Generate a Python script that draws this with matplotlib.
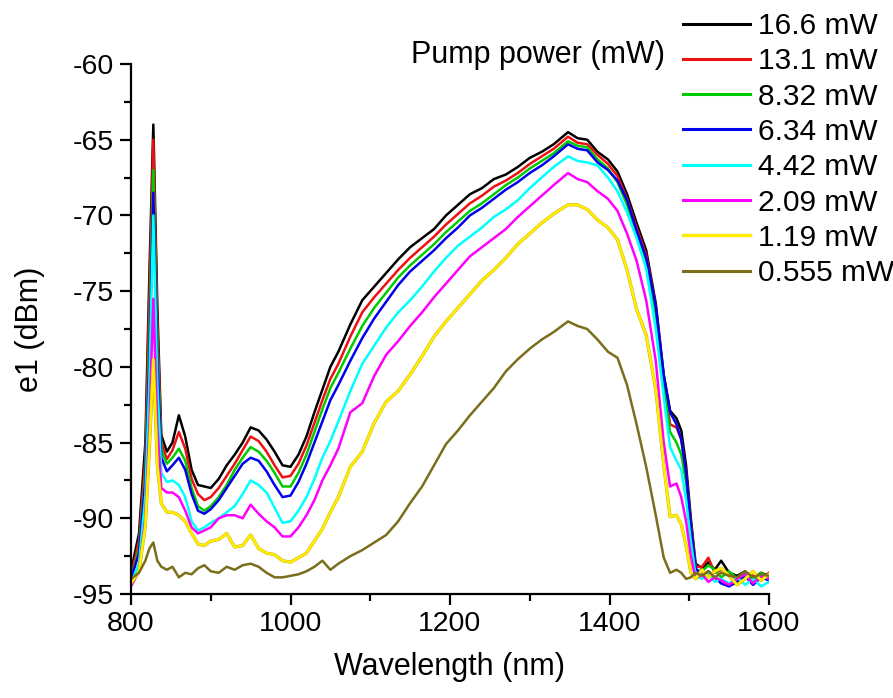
import matplotlib
matplotlib.use("Agg")
import matplotlib.pyplot as plt
from matplotlib.ticker import MultipleLocator
import matplotlib.patheffects as pe

plt.rcParams['font.family'] = ['Liberation Sans', 'DejaVu Sans']
plt.rcParams['axes.unicode_minus'] = False

wavelength = [800, 810, 818, 823, 828, 833, 838, 845, 852, 860, 868, 876, 884, 892, 900,
              910, 920, 930, 940, 950, 960, 970, 980, 990, 1000, 1010, 1020, 1030, 1040,
              1050, 1060, 1075, 1090, 1105, 1120, 1135, 1150, 1165, 1180, 1195, 1210, 1225,
              1240, 1255, 1270, 1285, 1300, 1315, 1330, 1348, 1360, 1372, 1385, 1398, 1410,
              1422, 1434, 1446, 1458, 1468, 1476, 1484, 1490, 1496, 1502, 1508, 1516, 1524,
              1532, 1540, 1550, 1560, 1570, 1580, 1590, 1600]

p16_6 = [-93.5, -91.0, -85.0, -74.0, -64.0, -76.0, -84.5, -85.6, -85.0, -83.2, -84.6, -86.8, -87.8,
         -87.9, -88.0, -87.4, -86.5, -85.8, -85.0, -84.0, -84.2, -84.8, -85.6, -86.5, -86.6, -85.8,
         -84.6, -83.0, -81.5, -80.0, -79.0, -77.2, -75.6, -74.7, -73.8, -72.9, -72.1, -71.5, -70.9,
         -70.0, -69.3, -68.6, -68.2, -67.6, -67.3, -66.8, -66.2, -65.8, -65.3, -64.5, -64.9, -65.0,
         -65.8, -66.3, -67.1, -68.6, -70.5, -72.3, -75.8, -80.5, -82.9, -83.4, -84.2, -86.5, -90.0,
         -93.0, -93.3, -92.9, -93.4, -92.8, -93.6, -93.8, -93.5, -94.0, -93.6, -93.8]

p13_1 = [-93.8, -91.5, -86.0, -75.5, -65.0, -77.0, -85.0, -86.1, -85.5, -84.3, -85.4, -87.4, -88.4,
         -88.8, -88.6, -88.0, -87.2, -86.4, -85.5, -84.6, -84.9, -85.6, -86.5, -87.3, -87.2, -86.4,
         -85.2, -83.7, -82.2, -80.8, -79.8, -78.0, -76.4, -75.4, -74.5, -73.6, -72.8, -72.1, -71.4,
         -70.6, -69.9, -69.2, -68.7, -68.1, -67.7, -67.2, -66.6, -66.1, -65.6, -64.8, -65.2, -65.3,
         -66.0, -66.6, -67.4, -68.9, -70.8, -72.6, -76.0, -80.8, -83.8, -84.0, -84.8, -87.0, -90.3,
         -93.2, -93.2, -92.6, -93.6, -93.4, -93.7, -94.0, -93.6, -93.8, -94.0, -93.6]

p8_32 = [-94.0, -92.0, -87.0, -78.0, -67.0, -78.5, -85.5, -86.4, -86.0, -85.4, -86.2, -88.0, -89.2,
         -89.5, -89.2, -88.6, -87.8, -86.8, -86.0, -85.3, -85.6, -86.2, -87.0, -87.9, -87.9, -87.0,
         -85.8, -84.3, -82.8, -81.4, -80.4, -78.8, -77.3, -76.1, -75.1, -74.1, -73.3, -72.6, -71.9,
         -71.1, -70.4, -69.7, -69.2, -68.6, -68.0, -67.5, -66.9, -66.4, -65.9, -65.1, -65.4, -65.5,
         -66.3, -66.9, -67.8, -69.3, -71.2, -73.0, -76.5, -81.2, -84.3, -85.0, -85.8, -87.6, -90.6,
         -93.4, -93.5, -93.1, -93.4, -93.9, -93.5, -94.0, -93.7, -94.1, -93.6, -93.9]

p6_34 = [-94.0, -92.3, -87.5, -79.5, -68.5, -79.5, -86.0, -86.9, -86.5, -86.0, -86.8, -88.4, -89.5,
         -89.7, -89.4, -88.8, -88.0, -87.2, -86.4, -86.0, -86.2, -86.9, -87.8, -88.6, -88.5, -87.6,
         -86.4, -85.0, -83.6, -82.2, -81.2, -79.6, -78.1, -76.8, -75.7, -74.6, -73.7, -73.0, -72.3,
         -71.5, -70.8, -70.0, -69.5, -68.9, -68.3, -67.8, -67.2, -66.7, -66.1, -65.3, -65.6, -65.7,
         -66.5, -67.0, -67.7, -69.0, -71.0, -72.8, -76.0, -80.6, -83.0, -83.8, -84.8, -87.0, -90.5,
         -93.3, -93.8, -93.5, -93.9, -94.3, -94.5, -94.2, -93.8, -94.4, -93.9, -94.1]

p4_42 = [-94.3, -93.0, -88.5, -81.0, -70.0, -81.0, -87.0, -87.6, -87.5, -87.8, -88.6, -90.2, -90.8,
         -90.6, -90.3, -90.0, -89.6, -89.2, -88.4, -87.5, -87.8, -88.3, -89.3, -90.3, -90.2, -89.5,
         -88.6, -87.4, -86.0, -84.9, -83.6, -81.6, -79.8, -78.6, -77.4, -76.4, -75.6, -74.7, -73.7,
         -72.8, -72.0, -71.4, -70.8, -70.1, -69.6, -69.0, -68.2, -67.5, -66.8, -66.1, -66.4, -66.5,
         -66.7, -67.5, -68.4, -69.8, -71.5, -73.5, -77.5, -82.0, -85.3, -86.2, -86.8, -88.8, -91.5,
         -93.8, -94.0, -93.6, -94.2, -94.0, -94.3, -93.9, -94.4, -94.0, -94.5, -94.2]

p2_09 = [-94.5, -93.5, -90.0, -84.0, -75.5, -84.0, -88.0, -88.3, -88.3, -88.6, -89.5, -90.6, -91.0,
         -90.8, -90.6, -90.0, -89.8, -89.8, -90.0, -89.1, -89.7, -90.2, -90.6, -91.2, -91.2, -90.6,
         -89.8, -88.8, -87.5, -86.5, -85.4, -83.0, -82.4, -80.6, -79.2, -78.3, -77.3, -76.4, -75.4,
         -74.5, -73.6, -72.7, -72.1, -71.5, -70.9, -70.1, -69.4, -68.7, -68.0, -67.2, -67.6, -67.8,
         -68.4, -68.9, -69.7, -71.2, -73.0, -75.6, -79.6, -85.0, -87.9, -87.7, -88.6, -90.2, -92.5,
         -94.0, -93.7, -94.2, -93.9, -94.1, -94.4, -94.0, -93.7, -94.3, -93.8, -94.0]

p1_19 = [-94.3, -93.5, -90.5, -85.5, -79.5, -86.5, -89.0, -89.6, -89.6, -89.8, -90.2, -91.0, -91.7,
         -91.8, -91.5, -91.4, -91.0, -91.9, -91.8, -91.1, -92.0, -92.3, -92.4, -92.8, -92.9, -92.6,
         -92.3, -91.5, -90.7, -89.6, -88.6, -86.6, -85.6, -83.7, -82.3, -81.6, -80.5, -79.3, -78.0,
         -77.0, -76.1, -75.2, -74.3, -73.6, -72.8, -71.9, -71.2, -70.5, -69.9, -69.3, -69.3, -69.6,
         -70.3, -70.8, -71.6, -73.6, -76.2, -77.9, -81.5, -86.5, -89.9, -89.8, -90.4, -91.8, -93.6,
         -94.0, -93.4, -93.9, -93.5, -93.3, -93.8, -94.4, -94.0, -93.5, -94.1, -93.7]

p0_555 = [-94.0, -93.6, -92.8, -92.0, -91.6, -92.8, -93.2, -93.4, -93.2, -93.9, -93.6, -93.7, -93.3,
          -93.1, -93.5, -93.6, -93.2, -93.4, -93.1, -93.0, -93.2, -93.6, -93.9, -93.9, -93.8, -93.7,
          -93.5, -93.2, -92.8, -93.4, -93.0, -92.5, -92.1, -91.6, -91.1, -90.2, -89.0, -87.9, -86.5,
          -85.1, -84.2, -83.2, -82.3, -81.4, -80.3, -79.5, -78.8, -78.2, -77.7, -77.0, -77.3, -77.5,
          -78.2, -79.0, -79.4, -81.2, -83.8, -86.6, -89.8, -92.6, -93.6, -93.4, -93.6, -94.0, -93.9,
          -93.6, -93.8, -93.5, -93.9, -93.6, -93.8, -93.9, -93.5, -93.9, -93.7, -93.8]

labels = ["16.6 mW", "13.1 mW", "8.32 mW", "6.34 mW", "4.42 mW", "2.09 mW", "1.19 mW", "0.555 mW"]
series = [p16_6, p13_1, p8_32, p6_34, p4_42, p2_09, p1_19, p0_555]
colors = ["#000000", "#ee1111", "#00cc00", "#0000ee", "#00ffff", "#ff00ff", "#ffee00", "#7a6e1c"]

fig = plt.figure(figsize=(8.93, 6.98), dpi=100)
ax = fig.add_axes([131 / 893, 1 - 594 / 698, (769 - 131) / 893, (594 - 64) / 698])

lines = []
for y, c, lab in zip(series, colors, labels):
    kw = {}
    if c == "#ffee00":
        kw['path_effects'] = [pe.Stroke(linewidth=2.3, foreground="#c9a800"), pe.Normal()]
    ln, = ax.plot(wavelength, y, color=c, lw=1.8, label=lab, **kw)
    lines.append(ln)

ax.set_xlim(800, 1600)
ax.set_ylim(-95, -60)
ax.xaxis.set_major_locator(MultipleLocator(200))
ax.xaxis.set_minor_locator(MultipleLocator(100))
ax.yaxis.set_major_locator(MultipleLocator(5))
ax.yaxis.set_minor_locator(MultipleLocator(2.5))
for s in ['top', 'right']:
    ax.spines[s].set_visible(False)
for s in ['left', 'bottom']:
    ax.spines[s].set_linewidth(1.6)
ax.tick_params(which='major', direction='out', length=8, width=1.6, labelsize=20.5, pad=4)
ax.tick_params(which='minor', direction='out', length=5, width=1.6)

ax.set_xlabel("Wavelength (nm)", fontsize=22, labelpad=11)
ax.set_ylabel("e1 (dBm)", fontsize=22, labelpad=20)

leg = fig.legend(handles=lines, loc='upper left', bbox_to_anchor=(683 / 893, 1 - 12 / 698),
                 frameon=False, fontsize=21.5, handlelength=2.24, handletextpad=0.27,
                 labelspacing=0.245, borderpad=0, borderaxespad=0)
for h in leg.get_lines():
    h.set_linewidth(2.2)
fig.text(665 / 893, 1 - 55 / 698, "Pump power (mW)", fontsize=22, ha='right', va='center')

fig.savefig("out.png", dpi=100)
